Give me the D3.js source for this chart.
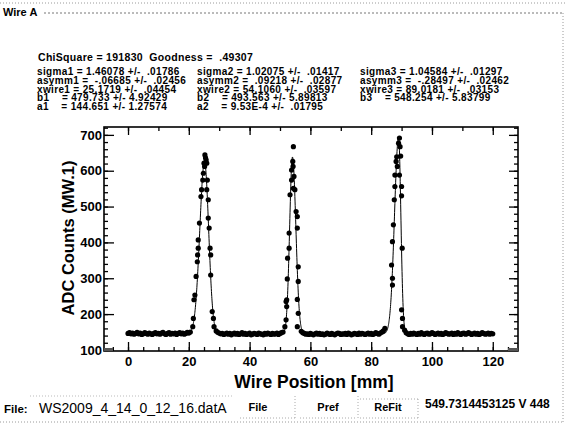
<!DOCTYPE html>
<html><head><meta charset="utf-8">
<script src="https://cdn.jsdelivr.net/npm/d3@7"></script>
<style>
html,body{margin:0;padding:0;background:#fff;}
svg{display:block;font-family:"Liberation Sans",Arial,sans-serif;}
.pre{white-space:pre;}
</style></head><body>
<svg id="chart" width="565" height="427"></svg>
<script>
// ---- fit results (three asymmetric peaks on a linear baseline) ----
const chiSquare = "191830";
const goodness = ".49307";
const sigmaTxt = ["1.46078", "1.02075", "1.04584"];
const sigmaErr = [".01786", ".01417", ".01297"];
const asymmTxt = ["-.06685", ".09218", "-.28497"];
const asymmErr = [".02456", ".02877", ".02462"];
const xwireTxt = ["25.1719", "54.1060", "89.0181"];
const xwireErr = [".04454", ".03597", ".03153"];
const bTxt = ["479.733", "493.563", "548.254"];
const bErr = ["4.92429", "5.89813", "5.83799"];
const aTxt = ["144.651", "9.53E-4"];
const aErr = ["1.27574", ".01795"];

// ---- measured scan: flat baseline stretches (0.5 mm step) ----
const scanStep = 0.5;
const baseA = { start: 0, vals: [146,148,145,147,144,146,149,145,147,143,145,148,146,144,147,145,143,146,148,145,146,144,147,149,145,143,146,148,144,146,145,147,143,146,148,145,147,144,146,149,147,150] };
const baseB = { start: 29, vals: [153,149,147,145,146,143,145,147,144,146,142,145,147,144,146,143,145,148,144,146,143,145,147,142,144,146,145,143,147,145,144,142,146,144,147,145,143,146,144,145,147,143,146,148,150] };
const baseC = { start: 57, vals: [152,148,146,144,145,143,146,144,142,145,147,144,146,143,145,142,144,147,145,143,146,144,142,145,147,146,143,145,144,146,143,147,145,142,144,146,145,143,147,144,146,145,143,145,147,144,146,143,145,148,146,144,147,150,153] };
const baseD = { start: 91, vals: [155,148,145,143,146,144,147,145,143,146,144,148,145,143,146,147,144,145,148,146,143,145,147,144,146,143,145,148,146,144,145,147,143,146,144,148,145,143,146,147,144,145,148,146,143,145,147,144,146,143,145,148,146,144,145,147,144,146,145] };

// ---- measured scan: points across each wire peak [position, counts] ----
const peak1Pts = [[21.3,165],[21.5,188],[21.7,240],[22.0,253],[22.4,305],[22.8,346],[22.9,365],[23.1,384],[23.1,407],[23.5,454],[24.0,528],[24.2,547],[24.6,574],[24.8,593],[25.0,621],[25.2,612],[25.3,644],[25.5,636],[25.7,630],[25.9,621],[26.1,574],[25.9,547],[26.4,519],[26.4,468],[26.7,440],[27.0,384],[27.2,365],[27.2,309],[27.7,207],[28.1,188],[28.3,165]];
const peak2Pts = [[51.6,165],[52.0,184],[52.0,235],[52.2,221],[52.2,240],[52.4,298],[52.5,356],[53.0,384],[53.0,426],[53.3,533],[53.8,574],[53.8,602],[54.2,626],[54.4,667],[54.4,551],[54.6,584],[54.3,612],[54.9,547],[55.3,486],[55.7,472],[55.7,440],[56.0,332],[56.0,291],[55.7,241],[56.0,202],[55.7,165]];
const peak3Pts = [[84.5,160],[86.7,337],[87.0,281],[87.0,300],[87.0,402],[87.3,449],[87.6,519],[87.8,556],[87.8,588],[88.2,626],[88.4,639],[88.6,612],[89.0,677],[89.3,691],[89.5,667],[89.7,641],[89.3,588],[90.0,556],[90.0,530],[90.2,384],[90.0,212],[90.3,188],[90.3,165]];

// ---- axis ticks ----
const xMajor = [0, 20, 40, 60, 80, 100, 120];
const xMinor = d3.range(-5, 126, 5);
const yMajor = [100, 200, 300, 400, 500, 600, 700];
const yMinor = d3.range(100, 721, 20);

const svg = d3.select("#chart");
const x = d3.scaleLinear().domain([-7.9, 128.3]).range([104, 518]);
const y = d3.scaleLinear().domain([97, 722]).range([351, 127]);

// ---- panel frame (dotted group box) ----
const faint = "#9a9a9a";
svg.append("line").attr("x1", 0).attr("x2", 565).attr("y1", 3).attr("y2", 3)
  .attr("stroke", faint).attr("stroke-dasharray", "1,2");
svg.append("line").attr("x1", 44).attr("x2", 563).attr("y1", 13).attr("y2", 13)
  .attr("stroke", "#777").attr("stroke-dasharray", "2,2");
svg.append("line").attr("x1", 563).attr("x2", 563).attr("y1", 13).attr("y2", 422)
  .attr("stroke", faint).attr("stroke-dasharray", "1,2");
svg.append("line").attr("x1", 0).attr("x2", 563).attr("y1", 422).attr("y2", 422)
  .attr("stroke", faint).attr("stroke-dasharray", "1,2");
svg.append("text").attr("x", 3).attr("y", 16).attr("font-size", 11).attr("font-weight", "bold").text("Wire A");

// ---- fit parameter block ----
const info = svg.append("g").attr("font-size", 10).attr("font-weight", "bold").attr("fill", "#000");
info.append("text").attr("class", "pre").attr("x", 38).attr("y", 61)
  .attr("font-size", 10.5).attr("letter-spacing", 0.3)
  .text(`ChiSquare = ${chiSquare}  Goodness =  ${goodness}`);
const colX = [37, 197, 360];
const rowY = [75, 84, 92.5, 101, 110];
const fitLines = i => {
  const n = i + 1;
  const rows = [
    `sigma${n} = ${sigmaTxt[i]} +/-  ${sigmaErr[i]}`,
    `asymm${n} = ${asymmTxt[i].startsWith("-") ? asymmTxt[i].replace("-", " -") : " " + asymmTxt[i]} +/-  ${asymmErr[i]}`,
    `xwire${n} = ${xwireTxt[i]} +/-  ${xwireErr[i]}`,
    `b${n}    = ${bTxt[i]} +/- ${bErr[i]}`
  ];
  if (i < aTxt.length) rows.push(`a${n}    = ${aTxt[i]} +/- ${aErr[i].startsWith(".") ? " " + aErr[i] : aErr[i]}`);
  return rows;
};
[0, 1, 2].forEach(i => {
  fitLines(i).forEach((t, r) => {
    info.append("text").attr("class", "pre").attr("x", colX[i]).attr("y", rowY[r])
      .attr("letter-spacing", 0.35).text(t);
  });
});

// ---- axes (ticks point inward on all four sides) ----
const tickStyle = g => {
  g.select(".domain").remove();
  g.selectAll("line").attr("stroke", "#000").attr("stroke-width", 1.3);
  g.selectAll("text").attr("font-size", 13).attr("font-weight", "bold").attr("fill", "#000")
    .attr("font-family", "'Liberation Sans', Arial, sans-serif");
};
svg.append("g").attr("transform", "translate(0,351)")
  .call(d3.axisBottom(x).tickValues(xMinor).tickSize(-4).tickFormat("")).call(tickStyle);
svg.append("g").attr("transform", "translate(0,351)")
  .call(d3.axisBottom(x).tickValues(xMajor).tickSize(-9).tickPadding(6).tickFormat(d3.format("d"))).call(tickStyle);
svg.append("g").attr("transform", "translate(0,127)")
  .call(d3.axisTop(x).tickValues(d3.range(0, 121, 10)).tickSize(-4).tickFormat("")).call(tickStyle);
svg.append("g").attr("transform", "translate(0,127)")
  .call(d3.axisTop(x).tickValues(xMajor).tickSize(-8).tickFormat("")).call(tickStyle);
svg.append("g").attr("transform", "translate(104,0)")
  .call(d3.axisLeft(y).tickValues(yMinor).tickSize(-4).tickFormat("")).call(tickStyle);
svg.append("g").attr("transform", "translate(104,0)")
  .call(d3.axisLeft(y).tickValues(yMajor).tickSize(-10).tickPadding(2).tickFormat(d3.format("d"))).call(tickStyle);
svg.append("g").attr("transform", "translate(518,0)")
  .call(d3.axisRight(y).tickValues(yMinor).tickSize(-4).tickFormat("")).call(tickStyle);
svg.append("g").attr("transform", "translate(518,0)")
  .call(d3.axisRight(y).tickValues(yMajor).tickSize(-9).tickFormat("")).call(tickStyle);

svg.append("rect").attr("x", x.range()[0]).attr("y", y.range()[1])
  .attr("width", x.range()[1] - x.range()[0]).attr("height", y.range()[0] - y.range()[1])
  .attr("fill", "none").attr("stroke", "#000").attr("stroke-width", 1.6);
// scroll stubs in the lower corners
svg.append("rect").attr("x", x.range()[0]).attr("y", y.range()[0] - 3).attr("width", 9).attr("height", 3).attr("fill", "#555");
svg.append("rect").attr("x", x.range()[1] - 10).attr("y", y.range()[0] - 3).attr("width", 10).attr("height", 3).attr("fill", "#555");

// ---- fit curve from the parameters above ----
const sig = sigmaTxt.map(Number), asy = asymmTxt.map(Number), xw = xwireTxt.map(Number), bb = bTxt.map(Number);
const a0 = +aTxt[0], a1 = +aTxt[1];
const model = v => {
  let s = a0 + a1 * v;
  for (let i = 0; i < 3; i++) {
    const d = v - xw[i];
    const sg = sig[i] * (1 + (d < 0 ? -1 : 1) * asy[i]);
    s += bb[i] * Math.exp(-d * d / (2 * sg * sg));
  }
  return s;
};
const curveX = d3.range(0, 120.0001, 0.05);
svg.append("path").datum(curveX)
  .attr("d", d3.line().x(v => x(v)).y(v => y(model(v))))
  .attr("fill", "none").attr("stroke", "#000").attr("stroke-width", 1);

// ---- measured points ----
const basePts = [baseA, baseB, baseC, baseD].flatMap(s => s.vals.map((v, i) => [s.start + i * scanStep, v]));
const pts = basePts.concat(peak1Pts, peak2Pts, peak3Pts);
svg.append("g").selectAll("circle").data(pts).join("circle")
  .attr("cx", d => x(d[0])).attr("cy", d => y(d[1])).attr("r", 2.6).attr("fill", "#000");

// ---- axis titles ----
svg.append("text").attr("x", 314).attr("y", 388).attr("text-anchor", "middle")
  .attr("font-size", 17.5).attr("font-weight", "bold").text("Wire Position [mm]");
svg.append("text").attr("transform", "translate(74,238) rotate(-90)").attr("text-anchor", "middle")
  .attr("font-size", 16.5).attr("font-weight", "bold").text("ADC Counts (MW.1)");

// ---- status row ----
svg.append("text").attr("x", 4).attr("y", 413).attr("font-size", 11.5).attr("font-weight", "bold").text("File:");
svg.append("text").attr("x", 39).attr("y", 413).attr("font-size", 14).text("WS2009_4_14_0_12_16.datA");
svg.append("line").attr("x1", 30).attr("x2", 232).attr("y1", 396).attr("y2", 396).attr("stroke", "#bbb").attr("stroke-dasharray", "1,2");
const buttons = [["File", 258], ["Pref", 328], ["ReFit", 388]];
buttons.forEach(([t, cx]) => {
  svg.append("text").attr("x", cx).attr("y", 411).attr("text-anchor", "middle")
    .attr("font-size", 11).attr("font-weight", "bold").text(t);
});
[[240, 295, 418, 418], [295, 295, 396, 418], [358, 358, 396, 418], [360, 418, 399, 399], [360, 418, 418, 418], [418, 418, 399, 418], [300, 356, 418, 418]]
  .forEach(([x1, x2, y1, y2]) => svg.append("line").attr("x1", x1).attr("x2", x2).attr("y1", y1).attr("y2", y2)
    .attr("stroke", "#aaa").attr("stroke-dasharray", "1,2"));
svg.append("text").attr("x", 425).attr("y", 408).attr("font-size", 12).attr("font-weight", "bold").text("549.7314453125 V 448");
</script>
</body></html>
